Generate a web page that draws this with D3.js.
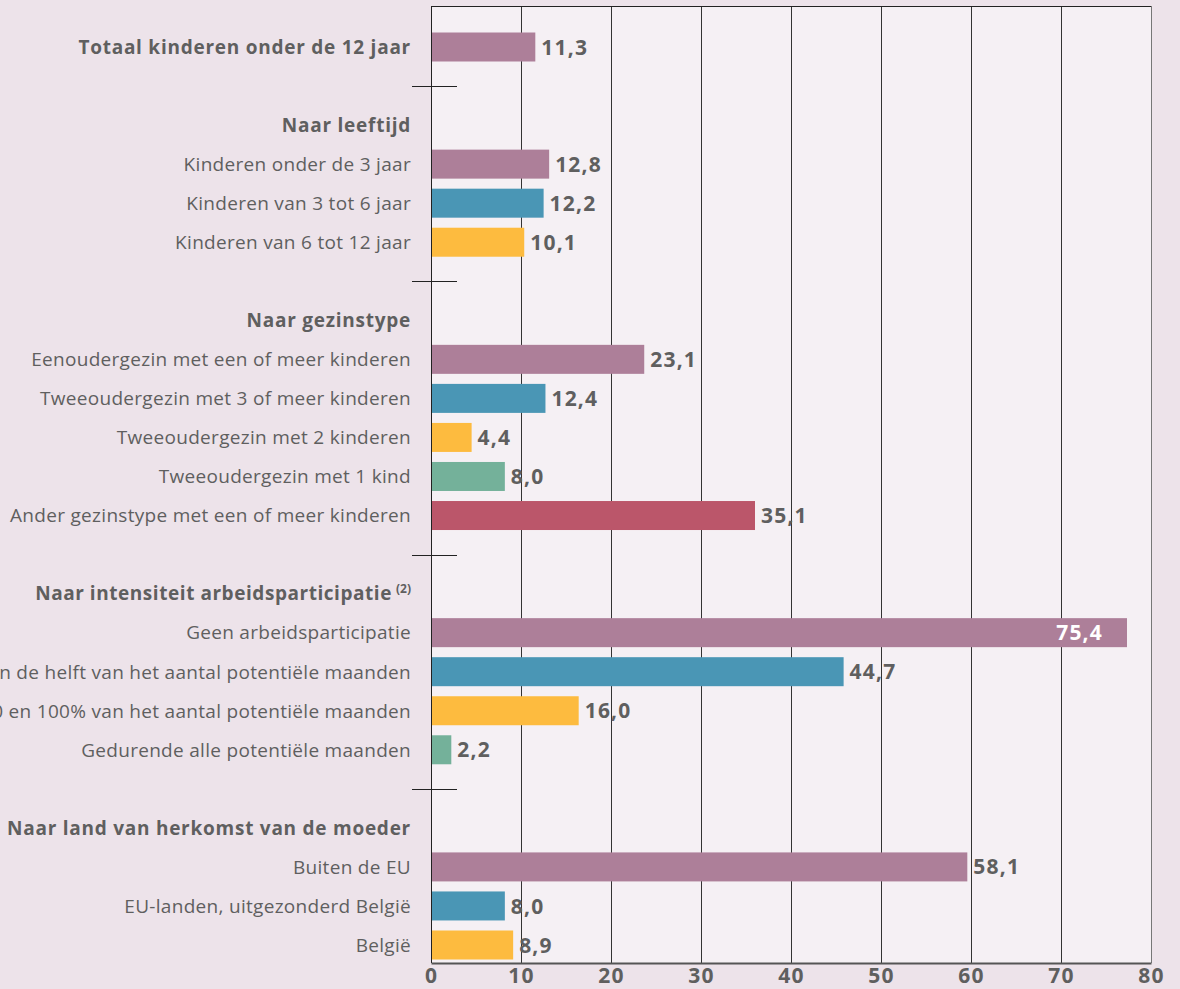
<!DOCTYPE html>
<html>
<head>
<meta charset="utf-8">
<script src="https://cdn.jsdelivr.net/npm/d3@7"></script>
<style>
  body { margin: 0; background: #ede3ea; overflow: hidden; }
  svg { display: block; font-family: "Open Sans", "Noto Sans", sans-serif; }
</style>
</head>
<body>
<div id="chart"></div>
<script>
// row labels, top to bottom; type: row = bar, head = group title, sep = divider
const rowLabels = [
  "Totaal kinderen onder de 12 jaar", "", "Naar leeftijd",
  "Kinderen onder de 3 jaar", "Kinderen van 3 tot 6 jaar", "Kinderen van 6 tot 12 jaar", "",
  "Naar gezinstype",
  "Eenoudergezin met een of meer kinderen", "Tweeoudergezin met 3 of meer kinderen",
  "Tweeoudergezin met 2 kinderen", "Tweeoudergezin met 1 kind",
  "Ander gezinstype met een of meer kinderen", "",
  "Naar intensiteit arbeidsparticipatie",
  "Geen arbeidsparticipatie", "Minder dan de helft van het aantal potentiële maanden",
  "Tussen 50 en 100% van het aantal potentiële maanden", "Gedurende alle potentiële maanden", "",
  "Naar land van herkomst van de moeder",
  "Buiten de EU", "EU-landen, uitgezonderd België", "België"
];
const rowTypes = [
  "total", "sep", "head", "row", "row", "row", "sep",
  "head", "row", "row", "row", "row", "row", "sep",
  "head", "row", "row", "row", "row", "sep",
  "head", "row", "row", "row"
];
// values (null where there is no bar)
const rowValues = [
  11.3, null, null, 12.8, 12.2, 10.1, null,
  null, 23.1, 12.4, 4.4, 8.0, 35.1, null,
  null, 75.4, 44.7, 16.0, 2.2, null,
  null, 58.1, 8.0, 8.9
];
// colour index inside each group
const rowColorIdx = [
  0, null, null, 0, 1, 2, null,
  null, 0, 1, 2, 3, 4, null,
  null, 0, 1, 2, 3, null,
  null, 0, 1, 2
];
const xTicks = [0, 10, 20, 30, 40, 50, 60, 70, 80];

const palette = ["#ad7f99", "#4a96b5", "#fdbb3f", "#74b19a", "#bb566a"];
const textColor = "#5f5f5f";

const width = 1180, height = 989;
const plot = {left: 431, right: 1151, top: 6, bottom: 963};

const svg = d3.select("#chart").append("svg")
  .attr("width", width).attr("height", height);

// axis scale (gridlines and tick labels)
const x = d3.scaleLinear().domain([0, 80]).range([plot.left, plot.right]);
// the bars in the original run a little longer than the grid
const xBar = d3.scaleLinear().domain([0, 78]).range([plot.left, plot.right]);

const y = d3.scalePoint()
  .domain(d3.range(rowLabels.length))
  .range([47, 945]);
const barH = 29;

// plot background
svg.append("rect")
  .attr("x", plot.left).attr("y", plot.top)
  .attr("width", plot.right - plot.left).attr("height", plot.bottom - plot.top)
  .attr("fill", "#f5f0f4");

// gridlines
svg.append("g").selectAll("line")
  .data(xTicks.slice(1))
  .join("line")
  .attr("x1", d => Math.round(x(d)) + 0.5).attr("x2", d => Math.round(x(d)) + 0.5)
  .attr("y1", plot.top).attr("y2", plot.bottom)
  .attr("stroke", d => d === 80 ? "#777" : "#333")
  .attr("stroke-width", 1);

// top border
svg.append("line")
  .attr("x1", plot.left).attr("x2", plot.right)
  .attr("y1", plot.top + 0.5).attr("y2", plot.top + 0.5)
  .attr("stroke", "#222");

const rows = rowLabels.map((label, i) => ({
  i: i, label: label, type: rowTypes[i], value: rowValues[i], c: rowColorIdx[i]
}));
const bars = rows.filter(d => d.value !== null);

// bars
svg.append("g").selectAll("rect")
  .data(bars)
  .join("rect")
  .attr("x", xBar(0))
  .attr("y", d => y(d.i) - barH / 2)
  .attr("width", d => xBar(d.value) - xBar(0))
  .attr("height", barH)
  .attr("fill", d => palette[d.c]);

// value labels
const fmt = v => d3.format(".1f")(v).replace(".", ",");
svg.append("g").selectAll("text")
  .data(bars)
  .join("text")
  .attr("x", d => d.value > 70 ? xBar(d.value) - 24 : xBar(d.value) + 6)
  .attr("y", d => y(d.i))
  .attr("dy", "0.36em")
  .attr("text-anchor", d => d.value > 70 ? "end" : "start")
  .attr("fill", d => d.value > 70 ? "#fff" : textColor)
  .attr("font-size", 21)
  .attr("font-weight", "bold")
  .attr("letter-spacing", 1.2)
  .text(d => fmt(d.value));

// category labels and group titles
const labels = svg.append("g").selectAll("text")
  .data(rows.filter(d => d.type !== "sep"))
  .join("text")
  .attr("x", 411)
  .attr("y", d => y(d.i))
  .attr("dy", "0.36em")
  .attr("text-anchor", "end")
  .attr("fill", textColor)
  .attr("font-size", 19)
  .attr("font-weight", d => d.type === "row" ? "normal" : "bold")
  .attr("letter-spacing", d => d.type === "row" ? 0.3 : 0.75)
  .text(d => d.label);

// footnote mark on the labour group title
labels.filter(d => d.label === "Naar intensiteit arbeidsparticipatie")
  .attr("letter-spacing", 0.55)
  .append("tspan")
  .attr("font-size", 12)
  .attr("letter-spacing", 0)
  .attr("dy", "-0.6em")
  .attr("dx", 4)
  .text("(2)");

// group dividers
svg.append("g").selectAll("line")
  .data(rows.filter(d => d.type === "sep"))
  .join("line")
  .attr("x1", 412).attr("x2", 457)
  .attr("y1", d => Math.round(y(d.i)) + 0.5).attr("y2", d => Math.round(y(d.i)) + 0.5)
  .attr("stroke", "#222");

// left axis line
svg.append("line")
  .attr("x1", plot.left + 0.5).attr("x2", plot.left + 0.5)
  .attr("y1", plot.top).attr("y2", plot.bottom)
  .attr("stroke", "#222");

// bottom axis
const xAxis = d3.axisBottom(x).tickValues(xTicks).tickSize(0).tickPadding(5);
const gx = svg.append("g")
  .attr("transform", `translate(0,${plot.bottom})`)
  .call(xAxis);
gx.select(".domain").attr("stroke", "#555").attr("stroke-width", 2);
gx.selectAll("text")
  .attr("fill", textColor)
  .attr("font-size", 21)
  .attr("font-weight", "bold")
  .attr("letter-spacing", 1.2)
  .attr("font-family", "'Open Sans', sans-serif");
</script>
</body>
</html>
